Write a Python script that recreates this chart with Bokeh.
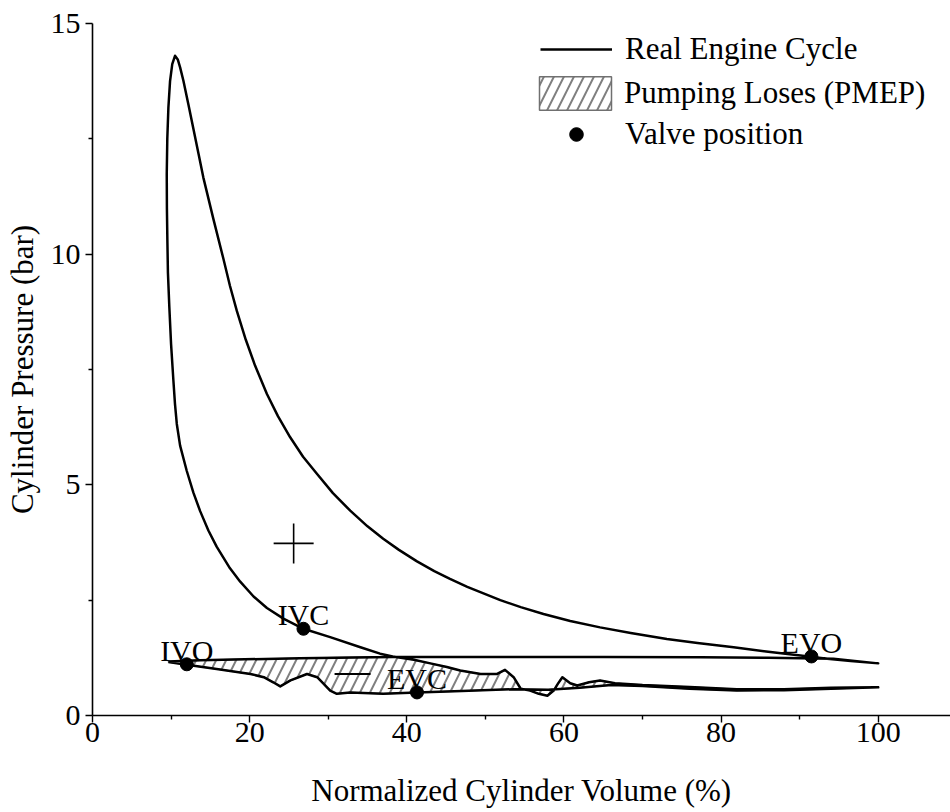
from bokeh.plotting import figure
from bokeh.models import FixedTicker, Legend, LegendItem, Range1d
from bokeh.core.properties import value
from bokeh.embed import file_html
from bokeh.resources import INLINE

# ---- data (volume %, pressure bar) ----
intake_v = [9.66, 12.0, 15.8, 20.1, 21.8, 23.0, 23.9, 25.2, 27.3, 28.6, 30.25, 31.1, 32.8, 37.0,
            41.3, 47.0, 53.6, 58.0, 62.0, 66.0, 70.0, 76.0, 82.0, 88.0, 94.0, 100.0]
intake_p = [1.16, 1.10, 1.01, 0.90, 0.83, 0.72, 0.63, 0.76, 0.90, 0.83, 0.54, 0.47, 0.50, 0.47,
            0.50, 0.53, 0.57, 0.56, 0.60, 0.66, 0.64, 0.58, 0.54, 0.55, 0.58, 0.61]

compression_v = [100.0, 94.0, 88.0, 82.0, 76.0, 70.0, 66.5, 64.6, 63.2, 61.7, 60.8, 59.8, 59.2,
                 58.7, 57.9, 56.8, 55.7, 54.5, 53.6, 52.5, 51.5, 49.4, 46.8, 45.1, 43.0, 40.9,
                 38.2, 36.6, 34.1, 30.25, 26.85, 24.3, 22.2, 20.5, 18.8, 17.5, 15.8, 14.75,
                 13.7, 12.84, 12.0, 11.15, 10.73, 10.5, 10.3, 10.0, 9.78, 9.6, 9.53, 9.47,
                 9.45, 9.52, 9.66, 9.87, 10.15, 10.5]
compression_p = [0.61, 0.60, 0.57, 0.57, 0.62, 0.66, 0.70, 0.76, 0.72, 0.65, 0.70, 0.83, 0.68,
                 0.54, 0.43, 0.47, 0.54, 0.58, 0.83, 0.99, 0.90, 0.90, 0.975, 1.05, 1.13, 1.21,
                 1.28, 1.34, 1.48, 1.70, 1.88, 2.10, 2.33, 2.58, 2.90, 3.19, 3.66, 4.01,
                 4.43, 4.83, 5.30, 5.85, 6.32, 6.75, 7.25, 8.05, 8.85, 9.60, 10.29, 11.0,
                 11.74, 12.50, 13.18, 13.75, 14.12, 14.3]

expansion_v = [10.5, 10.85, 11.15, 11.57, 12.2, 12.84, 13.5, 14.11, 15.39, 16.66, 17.5, 18.37,
               19.5, 20.7, 22.2, 23.6, 25.16, 26.8, 28.56, 30.6, 32.8, 35.0, 37.0, 39.0, 41.3,
               43.5, 45.5, 47.7, 51.9, 54.5, 57.4, 60.8, 64.6, 68.5, 73.1, 77.0, 81.6, 86.0,
               90.1, 93.5, 96.5, 100.0]
expansion_p = [14.3, 14.22, 14.05, 13.76, 13.25, 12.72, 12.17, 11.66, 10.76, 9.90, 9.31, 8.77,
               8.15, 7.58, 6.97, 6.49, 6.03, 5.61, 5.24, 4.82, 4.44, 4.10, 3.83, 3.59, 3.34,
               3.13, 2.96, 2.79, 2.50, 2.35, 2.20, 2.05, 1.91, 1.79, 1.66, 1.57, 1.48, 1.38,
               1.30, 1.23, 1.18, 1.13]

exhaust_v = [100.0, 94.3, 86.0, 77.4, 65.0, 51.9, 38.2, 26.4, 13.7, 9.66]
exhaust_p = [1.13, 1.23, 1.25, 1.26, 1.27, 1.27, 1.27, 1.24, 1.20, 1.17]

valve_names = ["IVO", "IVC", "EVC", "EVO"]
valve_v = [12.0, 26.85, 41.3, 91.5]
valve_p = [1.11, 1.88, 0.50, 1.28]

sign_plus_v, sign_plus_p = [25.6], [3.73]
sign_minus_v, sign_minus_p = [33.1], [0.90]

x_ticks = [0, 20, 40, 60, 80, 100]
x_minor = [10, 30, 50, 70, 90]
y_ticks = [0, 5, 10, 15]
y_minor = [2.5, 7.5, 12.5]

legend_labels = ["Real Engine Cycle", "Pumping Loses (PMEP)", "Valve position"]

# ---- build cycle and pumping loop ----
cycle_v = intake_v + compression_v[1:] + expansion_v[1:] + exhaust_v[1:]
cycle_p = intake_p + compression_p[1:] + expansion_p[1:] + exhaust_p[1:]

cross_v = 38.2
hatch_v, hatch_p = list(intake_v), list(intake_p)
for v, pr in zip(compression_v[1:], compression_p[1:]):
    if v < cross_v:
        break
    hatch_v.append(v); hatch_p.append(pr)
for v, pr in zip(exhaust_v, exhaust_p):
    if v < cross_v:
        hatch_v.append(v); hatch_p.append(pr)

FONT = "Liberation Serif"

p = figure(width=950, height=812, output_backend="svg", toolbar_location=None,
           x_range=Range1d(0, 109.2), y_range=Range1d(0, 15),
           min_border_left=92, min_border_right=0, min_border_top=23, min_border_bottom=97,
           background_fill_color="white", border_fill_color="white")
p.outline_line_color = None
p.grid.visible = False

xa = p.xaxis[0]
ya = p.yaxis[0]
xa.ticker = FixedTicker(ticks=x_ticks, minor_ticks=x_minor)
ya.ticker = FixedTicker(ticks=y_ticks, minor_ticks=y_minor)
xa.axis_label = "Normalized Cylinder Volume (%)"
ya.axis_label = "Cylinder Pressure (bar)"
for ax in (xa, ya):
    ax.axis_line_color = "black"
    ax.axis_line_width = 1.6
    ax.major_tick_line_color = "black"
    ax.minor_tick_line_color = "black"
    ax.major_tick_line_width = 1.4
    ax.minor_tick_line_width = 1.4
    ax.major_tick_in = 0
    ax.major_tick_out = 7
    ax.minor_tick_in = 0
    ax.minor_tick_out = 4
    ax.major_label_text_font = FONT
    ax.major_label_text_font_size = "30px"
    ax.major_label_text_color = "black"
    ax.axis_label_text_font = FONT
    ax.axis_label_text_font_size = "31px"
    ax.axis_label_text_font_style = "normal"
    ax.axis_label_text_color = "black"
xa.major_label_standoff = 0
xa.axis_label_standoff = 28
ya.major_label_standoff = 5
ya.axis_label_standoff = 8

patch_r = p.patch(hatch_v, hatch_p, fill_alpha=0, line_color="#707070", line_width=1.5,
                  hatch_pattern="/", hatch_color="#808080", hatch_weight=2.0, hatch_scale=20)
line_r = p.line(cycle_v, cycle_p, line_color="black", line_width=2.5, line_join="round")
dots_r = p.scatter(valve_v, valve_p, marker="circle", size=13, fill_color="black",
                   line_color="black")
p.text(valve_v, valve_p, text=valve_names, text_align="center", text_baseline="alphabetic",
       y_offset=-14, text_font=value(FONT), text_font_size="30px", text_color="black")
p.scatter(sign_plus_v, sign_plus_p, marker="cross", size=40, line_color="black", line_width=1.6)
p.scatter(sign_minus_v, sign_minus_p, marker="dash", size=36, line_color="black", line_width=2.0)


def make_legend(label, renderer, loc, gw, gh, standoff):
    lg = Legend(items=[LegendItem(label=label, renderers=[renderer])],
                location=loc, glyph_width=gw, glyph_height=gh, label_height=gh,
                label_standoff=standoff, spacing=0, padding=0, margin=0,
                border_line_color=None, background_fill_alpha=0,
                label_text_font=FONT, label_text_font_size="31px",
                label_text_color="black")
    p.add_layout(lg)


make_legend(legend_labels[0], line_r, (448, 648), 72, 34, 13)
make_legend(legend_labels[1], patch_r, (438, 601), 90, 42, 4)
make_legend(legend_labels[2], dots_r, (448, 563), 72, 34, 13)

open("out.html", "w").write(file_html(p, INLINE))
